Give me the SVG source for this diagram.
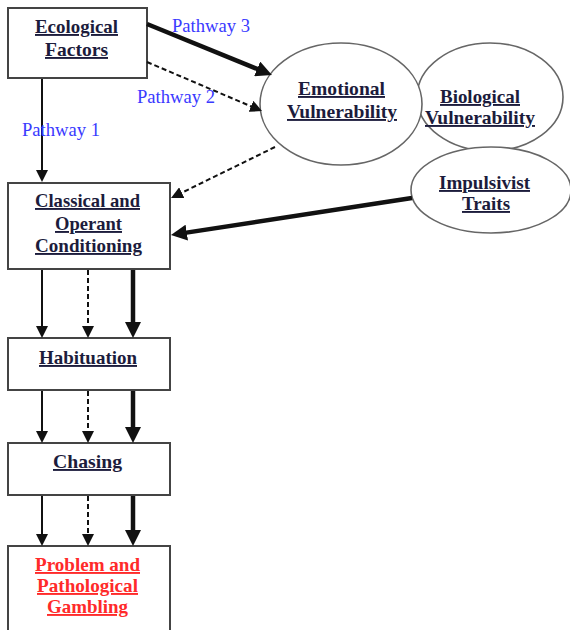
<svg xmlns="http://www.w3.org/2000/svg" width="570" height="630" viewBox="0 0 570 630">
<style>
.box{fill:#fff;stroke:#444;stroke-width:2}
.ell{fill:#fff;stroke:#666;stroke-width:1.6}
.t{font-family:"Liberation Serif","Times New Roman",serif;font-size:19px;font-weight:bold;fill:#1c1c3c;text-decoration:underline}
.red{fill:#ff2a2a}
.pw{font-family:"Liberation Serif","Times New Roman",serif;font-size:18px;fill:#3a3aff}
.thin{stroke:#111;stroke-width:2;fill:none;marker-end:url(#ah)}
.dash{stroke:#111;stroke-width:2;fill:none;stroke-dasharray:5,3;marker-end:url(#ah)}
.bold{stroke:#111;stroke-width:4.5;fill:none;marker-end:url(#ahb)}
</style>
<defs>
<marker id="ah" markerUnits="userSpaceOnUse" markerWidth="12" markerHeight="12" refX="2" refY="6" orient="auto"><path d="M0,0 L12,6 L0,12 z" fill="#111"/></marker>
<marker id="ahb" markerUnits="userSpaceOnUse" markerWidth="16" markerHeight="16" refX="2" refY="8" orient="auto"><path d="M0,0 L16,8 L0,16 z" fill="#111"/></marker>
</defs>
<rect width="570" height="630" fill="#fff"/>
<g id="biological">
<ellipse class="ell" cx="490" cy="97" rx="73" ry="54"/>
<text class="t" x="440" y="103" textLength="80" lengthAdjust="spacingAndGlyphs">Biological</text>
<text class="t" x="425" y="124" textLength="110" lengthAdjust="spacingAndGlyphs">Vulnerability</text>
</g>
<g id="emotional">
<ellipse class="ell" cx="341" cy="104" rx="81" ry="61"/>
<text class="t" x="298" y="95" textLength="87" lengthAdjust="spacingAndGlyphs">Emotional</text>
<text class="t" x="287" y="118" textLength="110" lengthAdjust="spacingAndGlyphs">Vulnerability</text>
</g>
<g id="impulsivist">
<ellipse class="ell" cx="491" cy="190" rx="80" ry="43"/>
<text class="t" x="439" y="189" textLength="91" lengthAdjust="spacingAndGlyphs">Impulsivist</text>
<text class="t" x="462" y="210" textLength="48" lengthAdjust="spacingAndGlyphs">Traits</text>
</g>
<g id="ecological">
<rect class="box" x="8" y="8" width="139" height="70"/>
<text class="t" x="35" y="33" textLength="83" lengthAdjust="spacingAndGlyphs">Ecological</text>
<text class="t" x="45" y="56" textLength="63" lengthAdjust="spacingAndGlyphs">Factors</text>
</g>
<g id="conditioning">
<rect class="box" x="8" y="183" width="162" height="86"/>
<text class="t" x="35" y="207" textLength="105" lengthAdjust="spacingAndGlyphs">Classical and</text>
<text class="t" x="55" y="230" textLength="67" lengthAdjust="spacingAndGlyphs">Operant</text>
<text class="t" x="35" y="252" textLength="107" lengthAdjust="spacingAndGlyphs">Conditioning</text>
</g>
<g id="habituation">
<rect class="box" x="8" y="338" width="162" height="52"/>
<text class="t" x="39" y="364" textLength="98" lengthAdjust="spacingAndGlyphs">Habituation</text>
</g>
<g id="chasing">
<rect class="box" x="8" y="443" width="162" height="52"/>
<text class="t" x="53" y="468" textLength="69" lengthAdjust="spacingAndGlyphs">Chasing</text>
</g>
<g id="gambling">
<rect class="box" x="8" y="546" width="162" height="100"/>
<text class="t red" x="35" y="571" textLength="105" lengthAdjust="spacingAndGlyphs">Problem and</text>
<text class="t red" x="37" y="592" textLength="101" lengthAdjust="spacingAndGlyphs">Pathological</text>
<text class="t red" x="47" y="613" textLength="81" lengthAdjust="spacingAndGlyphs">Gambling</text>
</g>
<g id="connectors">
<line class="bold" x1="147" y1="24" x2="259" y2="69.7"/>
<line class="dash" x1="147" y1="62" x2="252.8" y2="107.1"/>
<line class="thin" x1="42" y1="79" x2="42" y2="172"/>
<line class="dash" x1="275" y1="147" x2="180" y2="193.6"/>
<line class="bold" x1="412" y1="198" x2="184.8" y2="232.9"/>
<line class="thin" x1="42" y1="270" x2="42" y2="328"/>
<line class="dash" x1="88" y1="270" x2="88" y2="328"/>
<line class="bold" x1="133" y1="270" x2="133" y2="324"/>
<line class="thin" x1="42" y1="391" x2="42" y2="433"/>
<line class="dash" x1="88" y1="391" x2="88" y2="433"/>
<line class="bold" x1="133" y1="391" x2="133" y2="429"/>
<line class="thin" x1="42" y1="496" x2="42" y2="536"/>
<line class="dash" x1="88" y1="496" x2="88" y2="536"/>
<line class="bold" x1="133" y1="496" x2="133" y2="532"/>
</g>
<g id="labels">
<text class="pw" x="172" y="32" textLength="78" lengthAdjust="spacingAndGlyphs">Pathway 3</text>
<text class="pw" x="137" y="103" textLength="78" lengthAdjust="spacingAndGlyphs">Pathway 2</text>
<text class="pw" x="22" y="136" textLength="78" lengthAdjust="spacingAndGlyphs">Pathway 1</text>
</g>
</svg>
